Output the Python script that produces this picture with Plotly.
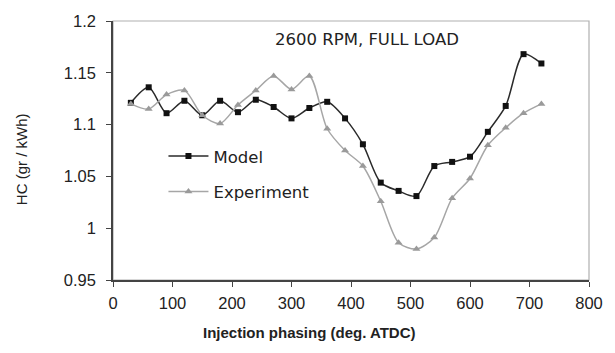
import plotly.graph_objects as go

x_deg = [30, 60, 90, 120, 150, 180, 210, 240, 270, 300, 330, 360,
         390, 420, 450, 480, 510, 540, 570, 600, 630, 660, 690, 720]
model = [1.121, 1.136, 1.111, 1.123, 1.109, 1.123, 1.112, 1.124, 1.117, 1.106, 1.116, 1.122,
         1.106, 1.081, 1.044, 1.036, 1.031, 1.060, 1.064, 1.069, 1.093, 1.118, 1.168, 1.159]
experiment = [1.120, 1.115, 1.129, 1.133, 1.109, 1.101, 1.119, 1.133, 1.147, 1.134, 1.147, 1.096,
              1.075, 1.060, 1.026, 0.986, 0.980, 0.991, 1.029, 1.048, 1.080, 1.097, 1.111, 1.120]
x_ticks = [0, 100, 200, 300, 400, 500, 600, 700, 800]
y_ticks = [0.95, 1.0, 1.05, 1.1, 1.15, 1.2]
y_tick_text = ["0.95", "1", "1.05", "1.1", "1.15", "1.2"]

FONT = "Liberation Sans, Arial, sans-serif"
WIDE = "DejaVu Sans, Verdana, sans-serif"

fig = go.Figure()
fig.add_trace(go.Scatter(
    x=x_deg, y=model, name="Model", mode="lines+markers", legendgroup="m",
    line=dict(color="#2a2a2a", width=1.5, shape="spline", smoothing=0.8),
    marker=dict(symbol="square", size=6, color="#111111"),
))
fig.add_trace(go.Scatter(
    x=x_deg, y=experiment, name="Experiment", mode="lines+markers", legendgroup="e",
    line=dict(color="#a6a6a6", width=1.5, shape="spline", smoothing=0.8),
    marker=dict(symbol="triangle-up", size=7, color="#9a9a9a"),
))

fig.update_layout(
    width=615, height=353,
    margin=dict(l=113, r=18, t=20, b=73),
    paper_bgcolor="white", plot_bgcolor="white",
    font=dict(family=FONT, size=14, color="#222222"),
    showlegend=True,
    legend=dict(x=0.106, y=0.545, xanchor="left", yanchor="top",
                bgcolor="rgba(0,0,0,0)", font=dict(family=WIDE, size=16.5, color="#222222"),
                itemwidth=40, tracegroupgap=11, traceorder="grouped"),
    xaxis=dict(range=[0, 800], tickvals=x_ticks, showgrid=False, zeroline=False,
               showline=True, linecolor="#444444", linewidth=1.5,
               ticks="outside", ticklen=5, tickcolor="#444444",
               tickfont=dict(size=16.5), ticklabelstandoff=2),
    yaxis=dict(range=[0.95, 1.2], tickvals=y_ticks, ticktext=y_tick_text,
               showgrid=False, zeroline=False,
               showline=True, linecolor="#444444", linewidth=1.5,
               ticks="outside", ticklen=5, tickcolor="#444444",
               tickfont=dict(size=16.5), ticklabelstandoff=7),
    shapes=[dict(type="rect", xref="paper", yref="paper", x0=0, y0=0, x1=1, y1=1,
                 line=dict(color="#b0b0b0", width=1.2), layer="below")],
    annotations=[
        dict(text="2600 RPM, FULL LOAD", xref="paper", yref="paper",
             x=0.533, y=0.93, xanchor="center", yanchor="middle", showarrow=False,
             font=dict(family=WIDE, size=16.5, color="#222222")),
        dict(text="<b>Injection phasing (deg. ATDC)</b>", xref="paper", yref="paper",
             x=0.412, y=-0.204, xanchor="center", yanchor="middle", showarrow=False,
             font=dict(size=15, color="#222222")),
        dict(text="HC (gr / kWh)", xref="paper", yref="paper", textangle=-90,
             x=-0.192, y=0.465, xanchor="center", yanchor="middle", showarrow=False,
             font=dict(size=15, color="#222222")),
    ],
)

fig.write_html("out.html")
